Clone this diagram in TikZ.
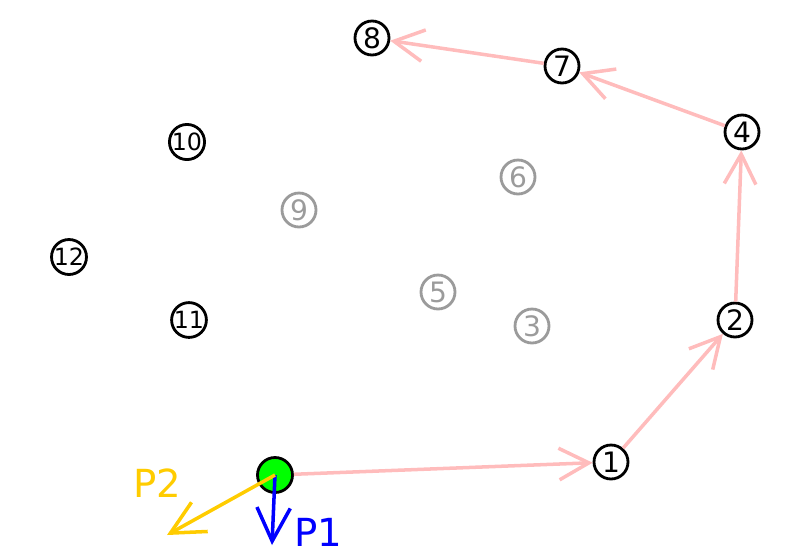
\documentclass[tikz,border=0pt]{standalone}
\usepackage{fontspec}
\setmainfont{DejaVu Sans}
\usetikzlibrary{arrows.meta}
\definecolor{edgepink}{RGB}{255,188,188}
\definecolor{pullblue}{RGB}{0,0,255}
\definecolor{pullgold}{RGB}{255,204,0}
\definecolor{fadegray}{RGB}{155,155,155}
\definecolor{dotgreen}{RGB}{0,255,0}
\tikzset{
    numnode/.style={circle,draw=black,line width=1.6pt,minimum size=0.68cm,inner sep=0pt,
        font=\fontsize{16}{16}\selectfont},
    twonode/.style={numnode,font=\fontsize{13.5}{13.5}\selectfont},
    fadenode/.style={numnode,draw=fadegray,text=fadegray},
    hop/.style={-{Straight Barb[length=17pt,width=18pt]},draw=edgepink,line width=2pt},
    pull/.style={-{Straight Barb[length=19pt,width=19pt]},line width=2pt},
    pulllabel/.style={font=\fontsize{22}{22}\selectfont}
}
\begin{document}
\begin{tikzpicture}[x=0.02cm,y=-0.02cm]
    \useasboundingbox (0,0) rectangle (794,559);
    % start point
    \node[circle,draw=black,fill=dotgreen,line width=1.6pt,minimum size=0.7cm,inner sep=0pt] (g) at (275,475) {};
    % numbered points
    \node[numnode] (n1) at (611,462) {1};
    \node[numnode] (n2) at (735,320) {2};
    \node[fadenode] (n3) at (532,326) {3};
    \node[numnode] (n4) at (742,132) {4};
    \node[fadenode] (n5) at (438,292) {5};
    \node[fadenode] (n6) at (518,177) {6};
    \node[numnode] (n7) at (562,66) {7};
    \node[numnode] (n8) at (372,38) {8};
    \node[fadenode] (n9) at (299,210) {9};
    \node[twonode] (n10) at (187,142) {10};
    \node[twonode] (n11) at (189,320) {11};
    \node[twonode] (n12) at (69,257) {12};
    % path
    \draw[hop] (g) -- (n1);
    \draw[hop] (n1) -- (n2);
    \draw[hop] (n2) -- (n4);
    \draw[hop] (n4) -- (n7);
    \draw[hop] (n7) -- (n8);
    % pulls
    \coordinate (p1) at (272,545);
    \coordinate (p2) at (167,535);
    \draw[pull,pullblue] (g.center) -- (p1);
    \draw[pull,pullgold] (g.center) -- (p2);
    \node[pulllabel,text=pullblue] (l1) at (318,532) {P1};
    \node[pulllabel,text=pullgold] (l2) at (157,483) {P2};
\end{tikzpicture}
\end{document}
